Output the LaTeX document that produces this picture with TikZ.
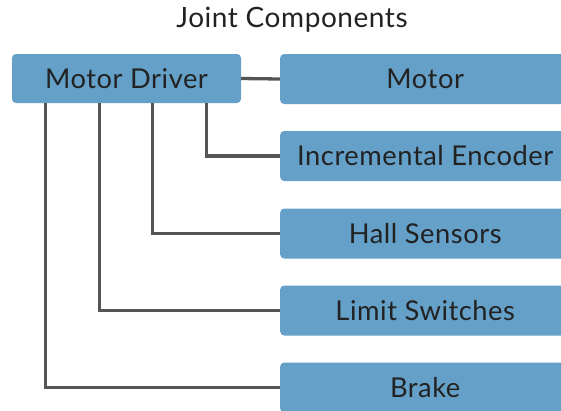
\documentclass[tikz,border=0pt]{standalone}
\usepackage{fontspec}
\setmainfont{Lato}[LetterSpace=2]
\usepackage{xcolor}
\definecolor{boxblue}{HTML}{64A0C8}
\definecolor{wire}{HTML}{555555}
\definecolor{ink}{HTML}{222222}

\begin{document}
\begin{tikzpicture}[x=1pt, y=-1pt,
  comp/.style={rectangle, rounded corners=4pt, fill=boxblue, text=ink, inner sep=0pt,
    minimum height=50pt, font=\fontsize{27.3}{32}\selectfont},
  part/.style={comp, anchor=west, minimum width=290pt},
  link/.style={line width=3.3pt, draw=wire}
]
\clip (0,0) rectangle (561,410);
\node[font=\fontsize{28}{32}\selectfont, text=ink] (title) at (292,20) {Joint Components};
\node[comp, minimum width=229pt, minimum height=49pt] (drv) at (126.5,78.5) {Motor Driver};
\node[part] (mot) at (280,79) {Motor};
\node[part] (enc) at (280,156) {Incremental Encoder};
\node[part] (hall) at (280,233.5) {Hall Sensors};
\node[part] (lim) at (280,310.5) {Limit Switches};
\node[part] (brk) at (280,387.5) {Brake};
\draw[link] (drv.east) -- (mot.west);
\draw[link] ([xshift=195pt]drv.south west) |- (enc.west);
\draw[link] ([xshift=141pt]drv.south west) |- (hall.west);
\draw[link] ([xshift=88pt]drv.south west) |- (lim.west);
\draw[link] ([xshift=34pt]drv.south west) |- (brk.west);
\end{tikzpicture}
\end{document}
